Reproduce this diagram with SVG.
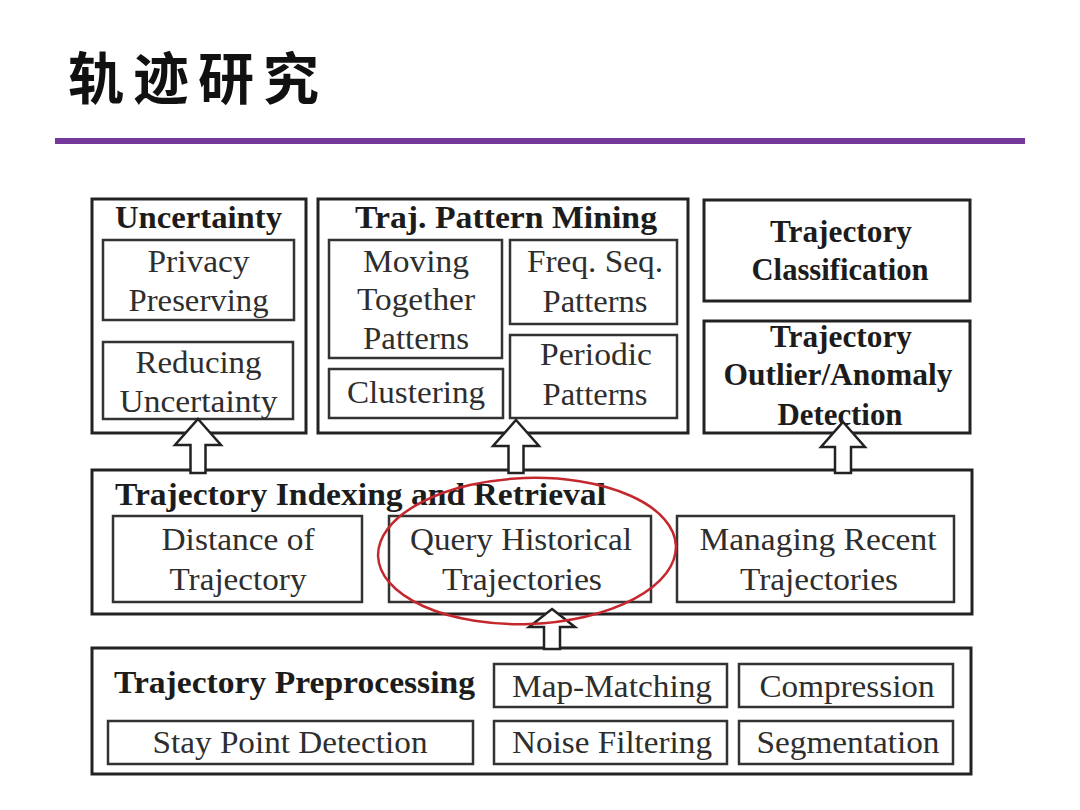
<svg xmlns="http://www.w3.org/2000/svg" width="1080" height="810" viewBox="0 0 1080 810">
<style>
.bg{fill:#ffffff}
.outer{fill:none;stroke:#222;stroke-width:3}
.inner{fill:none;stroke:#333;stroke-width:2.5}
.t{font-family:"Liberation Serif","Times New Roman",serif;font-size:32px;fill:#2e2e2e;text-anchor:middle}
.b{font-family:"Liberation Serif","Times New Roman",serif;font-size:32px;font-weight:bold;fill:#1c1c1c;text-anchor:middle}
.bl{font-family:"Liberation Serif","Times New Roman",serif;font-size:32px;font-weight:bold;fill:#1c1c1c;text-anchor:start}
.arrow{fill:#ffffff;stroke:#222;stroke-width:2.5;stroke-linejoin:miter}
.title{font-family:"Noto Sans CJK SC","Noto Sans CJK JP",sans-serif;font-size:56px;font-weight:bold;fill:#111;letter-spacing:9px}
</style>
<rect class="bg" x="0" y="0" width="1080" height="810"/>
<g id="title">
<text class="title" x="68" y="99">轨迹研究</text>
<rect x="55" y="138" width="970" height="6" fill="#74399a"/>
</g>
<g id="uncertainty">
<rect class="outer" x="92" y="199" width="214" height="234"/>
<text class="b" x="198.5" y="228" textLength="167" lengthAdjust="spacingAndGlyphs">Uncertainty</text>
</g>
<g id="privacy">
<rect class="inner" x="103" y="240" width="191" height="80"/>
<text class="t" x="198.5" y="272" textLength="102" lengthAdjust="spacingAndGlyphs">Privacy</text>
<text class="t" x="198.5" y="311" textLength="140" lengthAdjust="spacingAndGlyphs">Preserving</text>
</g>
<g id="reducing">
<rect class="inner" x="103" y="342" width="190" height="77"/>
<text class="t" x="198.5" y="373" textLength="126" lengthAdjust="spacingAndGlyphs">Reducing</text>
<text class="t" x="198.5" y="412" textLength="158" lengthAdjust="spacingAndGlyphs">Uncertainty</text>
</g>
<g id="patternmining">
<rect class="outer" x="318" y="199" width="370" height="234"/>
<text class="b" x="506" y="228" textLength="302" lengthAdjust="spacingAndGlyphs">Traj. Pattern Mining</text>
</g>
<g id="movingtogether">
<rect class="inner" x="329" y="240" width="173" height="118"/>
<text class="t" x="416" y="272" textLength="106" lengthAdjust="spacingAndGlyphs">Moving</text>
<text class="t" x="416" y="310" textLength="118" lengthAdjust="spacingAndGlyphs">Together</text>
<text class="t" x="416" y="349" textLength="106" lengthAdjust="spacingAndGlyphs">Patterns</text>
</g>
<g id="clustering">
<rect class="inner" x="329" y="369" width="174" height="49"/>
<text class="t" x="416" y="403" textLength="138" lengthAdjust="spacingAndGlyphs">Clustering</text>
</g>
<g id="freqseq">
<rect class="inner" x="510" y="240" width="167" height="84"/>
<text class="t" x="595" y="272" textLength="136" lengthAdjust="spacingAndGlyphs">Freq. Seq.</text>
<text class="t" x="595" y="312" textLength="105" lengthAdjust="spacingAndGlyphs">Patterns</text>
</g>
<g id="periodic">
<rect class="inner" x="510" y="335" width="167" height="83"/>
<text class="t" x="596" y="365" textLength="112" lengthAdjust="spacingAndGlyphs">Periodic</text>
<text class="t" x="595" y="405" textLength="105" lengthAdjust="spacingAndGlyphs">Patterns</text>
</g>
<g id="classification">
<rect class="outer" x="704" y="200" width="266" height="101"/>
<text class="b" x="841" y="242" textLength="142" lengthAdjust="spacingAndGlyphs">Trajectory</text>
<text class="b" x="840" y="280" textLength="177" lengthAdjust="spacingAndGlyphs">Classification</text>
</g>
<g id="outlier">
<rect class="outer" x="704" y="321" width="266" height="112"/>
<text class="b" x="841" y="347" textLength="142" lengthAdjust="spacingAndGlyphs">Trajectory</text>
<text class="b" x="838" y="385" textLength="229" lengthAdjust="spacingAndGlyphs">Outlier/Anomaly</text>
<text class="b" x="840" y="425" textLength="125" lengthAdjust="spacingAndGlyphs">Detection</text>
</g>
<g id="indexing">
<rect class="outer" x="92" y="470" width="880" height="144"/>
<text class="bl" x="115" y="505" textLength="491" lengthAdjust="spacingAndGlyphs">Trajectory Indexing and Retrieval</text>
</g>
<g id="distance">
<rect class="inner" x="113" y="516" width="249" height="86"/>
<text class="t" x="238" y="550" textLength="153" lengthAdjust="spacingAndGlyphs">Distance of</text>
<text class="t" x="238" y="590" textLength="137" lengthAdjust="spacingAndGlyphs">Trajectory</text>
</g>
<g id="queryhistorical">
<rect class="inner" x="389" y="516" width="262" height="86"/>
<text class="t" x="521" y="550" textLength="222" lengthAdjust="spacingAndGlyphs">Query Historical</text>
<text class="t" x="522" y="590" textLength="160" lengthAdjust="spacingAndGlyphs">Trajectories</text>
</g>
<g id="managingrecent">
<rect class="inner" x="677" y="516" width="277" height="86"/>
<text class="t" x="818" y="550" textLength="237" lengthAdjust="spacingAndGlyphs">Managing Recent</text>
<text class="t" x="819" y="590" textLength="158" lengthAdjust="spacingAndGlyphs">Trajectories</text>
</g>
<g id="preprocessing">
<rect class="outer" x="92" y="648" width="879" height="126"/>
<text class="bl" x="114" y="693" textLength="361" lengthAdjust="spacingAndGlyphs">Trajectory Preprocessing</text>
</g>
<g id="staypoint">
<rect class="inner" x="108" y="721" width="365" height="43"/>
<text class="t" x="290" y="753" textLength="275" lengthAdjust="spacingAndGlyphs">Stay Point Detection</text>
</g>
<g id="mapmatching">
<rect class="inner" x="494" y="664" width="233" height="43"/>
<text class="t" x="612" y="697" textLength="200" lengthAdjust="spacingAndGlyphs">Map-Matching</text>
</g>
<g id="compression">
<rect class="inner" x="739" y="664" width="214" height="43"/>
<text class="t" x="847" y="697" textLength="175" lengthAdjust="spacingAndGlyphs">Compression</text>
</g>
<g id="noisefiltering">
<rect class="inner" x="494" y="721" width="233" height="43"/>
<text class="t" x="612" y="753" textLength="200" lengthAdjust="spacingAndGlyphs">Noise Filtering</text>
</g>
<g id="segmentation">
<rect class="inner" x="739" y="721" width="214" height="43"/>
<text class="t" x="848" y="753" textLength="183" lengthAdjust="spacingAndGlyphs">Segmentation</text>
</g>
<g id="connectors">
<path class="arrow" d="M198,419 L221,445 L205.5,445 L205.5,473 L190.5,473 L190.5,445 L175,445 Z"/>
<path class="arrow" d="M516,420 L539,446 L523.5,446 L523.5,473 L508.5,473 L508.5,446 L493,446 Z"/>
<path class="arrow" d="M843,422 L865,447 L851,447 L851,473 L835,473 L835,447 L821,447 Z"/>
<path class="arrow" d="M552,609 L575,627 L560,627 L560,649 L544,649 L544,627 L529,627 Z"/>
</g>
<g id="highlight">
<ellipse cx="527" cy="551" rx="149" ry="73" fill="none" stroke="#c4282e" stroke-width="2.5" transform="rotate(-2 527 551)"/>
</g>
</svg>
